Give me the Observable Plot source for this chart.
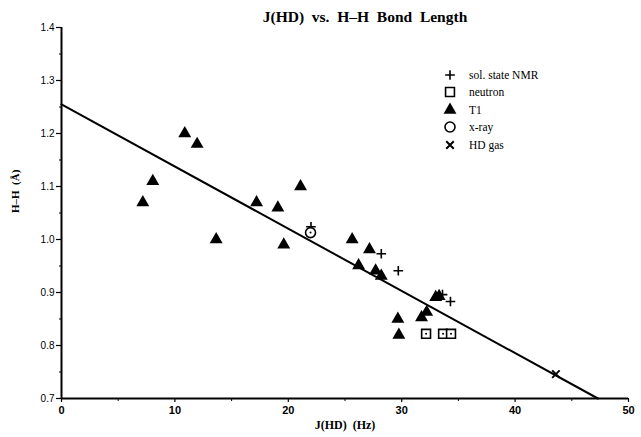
<!DOCTYPE html>
<html><head><meta charset="utf-8">
<script src="https://cdn.jsdelivr.net/npm/d3@7"></script>
<script src="https://cdn.jsdelivr.net/npm/@observablehq/plot@0.6"></script>
<style>
body{margin:0;background:#fff;}
#wrap{position:relative;width:641px;height:437px;}
#title{position:absolute;left:0;top:8px;width:641px;line-height:18px;text-align:center;padding-left:89px;box-sizing:border-box;font:bold 15.5px "Liberation Serif",serif;white-space:pre;color:#000;z-index:2;}
#legend{position:absolute;left:440px;top:66px;font:11.5px "Liberation Serif",serif;color:#000;z-index:2;}
#legend .row{display:flex;align-items:center;height:17.5px;}
#legend svg{width:20px;height:16px;margin-right:9px;overflow:visible;}
</style></head>
<body><div id="wrap"><div id="title">J(HD)  vs.  H–H  Bond  Length</div><div id="legend"></div></div>
<script>
// sol. state NMR (+)
const nmrX = [22.0, 28.2, 29.7, 33.6, 34.3];
const nmrY = [1.024, 0.973, 0.941, 0.896, 0.883];
// neutron (open square)
const neutronX = [32.15, 33.65, 34.35];
const neutronY = [0.822, 0.822, 0.822];
// T1 (filled triangle)
const t1X = [7.17, 8.05, 10.87, 11.96, 13.64, 17.2, 19.08, 19.6, 21.08, 25.63, 26.2, 27.16, 27.7, 28.2, 29.66, 29.75, 31.75, 32.2, 33.0, 33.3];
const t1Y = [1.07, 1.11, 1.20, 1.18, 1.00, 1.07, 1.06, 0.99, 1.10, 1.00, 0.951, 0.981, 0.941, 0.931, 0.85, 0.82, 0.853, 0.863, 0.891, 0.893];
// x-ray (open circle)
const xrayX = [21.96];
const xrayY = [1.013];
// HD gas (x)
const gasX = [43.6];
const gasY = [0.746];
// fitted line endpoints
const fitX = [0, 47.3];
const fitY = [1.255, 0.700];
const xTicks = [0, 10, 20, 30, 40, 50];
const xMinor = [5, 15, 25, 35, 45];
const yTicks = [0.7, 0.8, 0.9, 1.0, 1.1, 1.2, 1.3, 1.4];
const yMinor = [0.75, 0.85, 0.95, 1.05, 1.15, 1.25, 1.35];
const legendLabels = ["sol. state NMR", "neutron", "T1", "x-ray", "HD gas"];

const pts = (xs, ys) => xs.map((x, i) => ({x, y: ys[i]}));
const fit = pts(fitX, fitY);

const chart = Plot.plot({
  width: 641, height: 437,
  marginLeft: 61, marginRight: 13, marginTop: 27, marginBottom: 39,
  style: {fontFamily: "'Liberation Sans', sans-serif", fontSize: "10px", color: "#000", background: "#fff", overflow: "visible"},
  x: {type: "linear", domain: [0, 50]},
  y: {type: "linear", domain: [0.7, 1.4]},
  marks: [
    Plot.axisX({ticks: xTicks, tickSize: 4, tickPadding: 4, fontWeight: "bold", tickFormat: d => String(d), label: null, strokeWidth: 1.2, fontSize: 11}),
    Plot.axisX({ticks: xMinor, tickSize: 3, text: null, label: null}),
    Plot.axisY({ticks: yTicks, tickSize: 5, tickPadding: 2, tickFormat: d => d.toFixed(1), label: null, strokeWidth: 1.2}),
    Plot.axisY({ticks: yMinor, tickSize: 2, text: null, label: null}),
    Plot.ruleX([0], {strokeWidth: 2}),
    Plot.ruleY([0.7], {strokeWidth: 2}),
    Plot.line(fit, {x: "x", y: "y", stroke: "#000", strokeWidth: 2}),
    Plot.dot(pts(t1X, t1Y), {x: "x", y: "y", symbol: "triangle", r: 4.8, fill: "#000"}),
    Plot.dot(pts(nmrX, nmrY), {x: "x", y: "y", symbol: "plus", r: 3.2, stroke: "#000", strokeWidth: 1.6}),
    Plot.dot(pts(xrayX, xrayY), {x: "x", y: "y", symbol: "circle", r: 5, stroke: "#000", fill: "#fff", strokeWidth: 1.6}),
    Plot.dot(pts(neutronX, neutronY), {x: "x", y: "y", symbol: "square", r: 5, stroke: "#000", fill: "#fff", strokeWidth: 1.6}),
    Plot.dot(pts(neutronX.concat(xrayX), neutronY.concat(xrayY)), {x: "x", y: "y", r: 1, fill: "#000"}),
    Plot.dot(pts(gasX, gasY), {x: "x", y: "y", symbol: "times", r: 3.5, stroke: "#000", strokeWidth: 2}),
    Plot.text(["J(HD)  (Hz)"], {frameAnchor: "bottom", dy: 30, fontFamily: "'Liberation Serif', serif", fontWeight: "bold", fontSize: 12, text: d => d}),
    Plot.text(["H–H  (Å)"], {frameAnchor: "left", dx: -46, rotate: -90, fontFamily: "'Liberation Serif', serif", fontWeight: "bold", fontSize: 11, text: d => d})
  ]
});
document.getElementById("wrap").prepend(chart);
chart.style.position = "absolute"; chart.style.left = "0"; chart.style.top = "0";

// legend
const legendSymbols = [
  {symbol: d3.symbolPlus, size: Math.PI * 3.2 * 3.2, fill: "none", stroke: "#000", sw: 1.6},
  {symbol: d3.symbolSquare, size: Math.PI * 25, fill: "#fff", stroke: "#000", sw: 1.6},
  {symbol: d3.symbolTriangle, size: Math.PI * 4.8 * 4.8, fill: "#000", stroke: "none", sw: 0},
  {symbol: d3.symbolCircle, size: Math.PI * 25, fill: "#fff", stroke: "#000", sw: 1.6},
  {symbol: d3.symbolTimes, size: Math.PI * 3.5 * 3.5, fill: "none", stroke: "#000", sw: 2}
];
const leg = d3.select("#legend");
legendLabels.forEach((lab, i) => {
  const row = leg.append("div").attr("class", "row");
  const s = row.append("svg");
  const sym = legendSymbols[i];
  s.append("path").attr("transform", "translate(10,8)").attr("d", d3.symbol(sym.symbol, sym.size)())
    .attr("fill", sym.fill).attr("stroke", sym.stroke).attr("stroke-width", sym.sw);
  row.append("span").text(lab);
});
</script>
</body></html>
